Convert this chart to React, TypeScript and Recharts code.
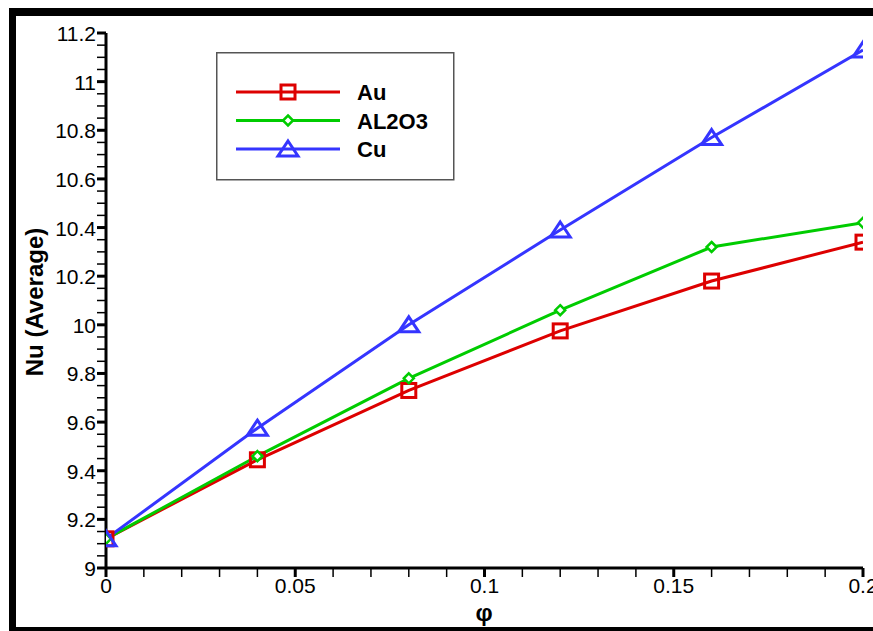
import React from 'react';
import { LineChart, Line, XAxis, YAxis } from 'recharts';

const FONT = '"Liberation Sans", Arial, Helvetica, sans-serif';

const xValues = [0, 0.04, 0.08, 0.12, 0.16, 0.2];
const auValues = [9.12, 9.445, 9.73, 9.975, 10.18, 10.34];
const al2o3Values = [9.12, 9.46, 9.78, 10.06, 10.32, 10.42];
const cuValues = [9.12, 9.575, 10.0, 10.39, 10.77, 11.13];

const seriesNames = ['Au', 'AL2O3', 'Cu'];
const seriesColors = ['#dd0000', '#00cc00', '#3535ff'];

const xMajorTicks = [0, 0.05, 0.1, 0.15, 0.2];
const xMinorTicks = [0.01, 0.02, 0.03, 0.04, 0.06, 0.07, 0.08, 0.09, 0.11, 0.12, 0.13, 0.14, 0.16, 0.17, 0.18, 0.19];
const yMajorTicks = [9, 9.2, 9.4, 9.6, 9.8, 10, 10.2, 10.4, 10.6, 10.8, 11, 11.2];
const yMinorTicks = [
  9.05, 9.1, 9.15, 9.25, 9.3, 9.35, 9.45, 9.5, 9.55, 9.65, 9.7, 9.75, 9.85, 9.9, 9.95,
  10.05, 10.1, 10.15, 10.25, 10.3, 10.35, 10.45, 10.5, 10.55, 10.65, 10.7, 10.75, 10.85, 10.9, 10.95,
  11.05, 11.1, 11.15,
];

const data = xValues.map((phi, i) => ({
  phi,
  Au: auValues[i],
  AL2O3: al2o3Values[i],
  Cu: cuValues[i],
}));

const xAllTicks = [...xMajorTicks, ...xMinorTicks].sort((a, b) => a - b);
const yAllTicks = [...yMajorTicks, ...yMinorTicks].sort((a, b) => a - b);

const isMajor = (v: number, list: number[]) => list.some((m) => Math.abs(m - v) < 1e-9);

function XTick(props: any) {
  const { x, y, payload } = props;
  const v = payload.value;
  const major = isMajor(v, xMajorTicks);
  return (
    <g>
      <line x1={x} y1={y} x2={x} y2={y + 9} stroke="#000" strokeWidth={major ? 3 : 1.5} />
      {major && (
        <text x={x} y={y + 25} textAnchor="middle" fontSize={21} fontFamily={FONT} fill="#000">
          {String(v)}
        </text>
      )}
    </g>
  );
}

function YTick(props: any) {
  const { x, y, payload } = props;
  const v = payload.value;
  const major = isMajor(v, yMajorTicks);
  return (
    <g>
      <line x1={x} y1={y} x2={x - 9} y2={y} stroke="#000" strokeWidth={major ? 3 : 1.5} />
      {major && (
        <text x={x - 10} y={y + 8} textAnchor="end" fontSize={21} fontFamily={FONT} fill="#000">
          {String(v)}
        </text>
      )}
    </g>
  );
}

function Square({ cx, cy, color }: any) {
  return <rect x={cx - 7} y={cy - 7} width={14} height={14} fill="none" stroke={color} strokeWidth={3} />;
}
function Diamond({ cx, cy, color }: any) {
  return (
    <polygon
      points={`${cx},${cy - 5} ${cx + 5},${cy} ${cx},${cy + 5} ${cx - 5},${cy}`}
      fill="#fff"
      stroke={color}
      strokeWidth={2.5}
    />
  );
}
function Triangle({ cx, cy, color }: any) {
  return (
    <polygon
      points={`${cx},${cy - 8} ${cx + 10},${cy + 7} ${cx - 10},${cy + 7}`}
      fill="none"
      stroke={color}
      strokeWidth={3}
      strokeLinejoin="miter"
    />
  );
}

const markers = [Square, Diamond, Triangle];

const makeDot = (i: number) => (p: any) => {
  const M = markers[i];
  return <M key={`${seriesNames[i]}-${p.index}`} cx={p.cx} cy={p.cy} color={seriesColors[i]} />;
};

export default function App() {
  return (
    <div style={{ position: 'absolute', left: 0, top: 0, width: 873, height: 631, overflow: 'hidden', background: '#fff' }}>
      <LineChart
        width={900}
        height={631}
        data={data}
        margin={{ top: 33, right: 37, bottom: 0, left: 0 }}
      >
        <XAxis
          dataKey="phi"
          type="number"
          domain={[0, 0.2]}
          ticks={xAllTicks}
          interval={0}
          height={63}
          tickSize={0}
          tickMargin={0}
          tickLine={false}
          axisLine={{ stroke: '#000', strokeWidth: 3 }}
          tick={<XTick />}
          allowDataOverflow
        />
        <YAxis
          type="number"
          domain={[9, 11.2]}
          ticks={yAllTicks}
          interval={0}
          width={106}
          tickSize={0}
          tickMargin={0}
          tickLine={false}
          axisLine={{ stroke: '#000', strokeWidth: 3 }}
          tick={<YTick />}
          allowDataOverflow
        />
        {seriesNames.map((name, i) => (
          <Line
            key={name}
            type="linear"
            dataKey={name}
            stroke={seriesColors[i]}
            strokeWidth={3}
            dot={makeDot(i)}
            activeDot={false}
            isAnimationActive={false}
          />
        ))}
      </LineChart>

      <svg
        width={873}
        height={631}
        style={{ position: 'absolute', left: 0, top: 0, pointerEvents: 'none' }}
      >
        <text
          x={0}
          y={0}
          transform="translate(43,302) rotate(-90)"
          textAnchor="middle"
          fontSize={24}
          fontWeight="bold"
          fontFamily={FONT}
          fill="#000"
        >
          Nu (Average)
        </text>
        <text x={484} y={621} textAnchor="middle" fontSize={24} fontWeight="bold" fontFamily={FONT} fill="#000">
          φ
        </text>

        <g transform="translate(216,52)">
          <rect x={0.75} y={0.75} width={237} height={127} fill="#fff" stroke="#555" strokeWidth={1.5} />
          {seriesNames.map((name, i) => {
            const ry = 40 + i * 28.5;
            const M = markers[i];
            return (
              <g key={name}>
                <line x1={20} y1={ry} x2={124} y2={ry} stroke={seriesColors[i]} strokeWidth={3} />
                <M cx={72} cy={ry} color={seriesColors[i]} />
                <text x={141} y={ry + 8} fontSize={22} fontWeight="bold" fontFamily={FONT} fill="#000">
                  {name}
                </text>
              </g>
            );
          })}
        </g>
      </svg>

      <div
        style={{
          position: 'absolute',
          left: 9,
          top: 8,
          width: 900,
          height: 627,
          boxSizing: 'border-box',
          borderLeft: '7px solid #000',
          borderTop: '8px solid #000',
          borderBottom: '8px solid #000',
          pointerEvents: 'none',
        }}
      />
    </div>
  );
}
